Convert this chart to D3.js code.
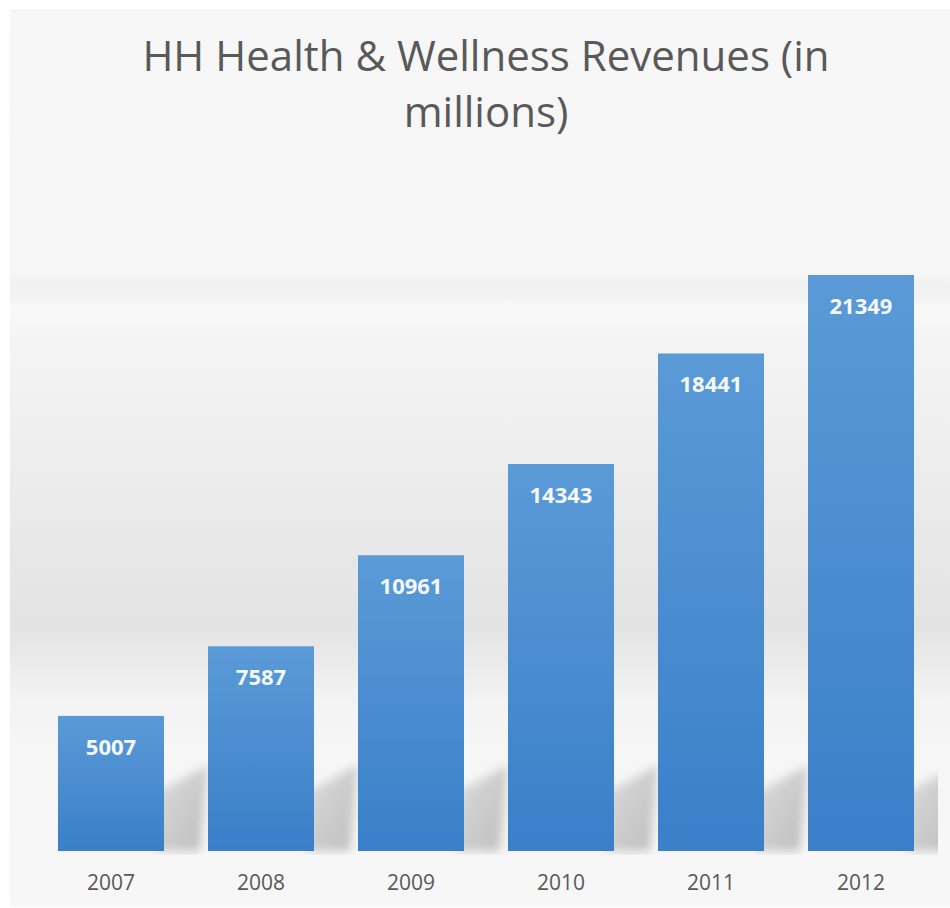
<!DOCTYPE html>
<html>
<head>
<meta charset="utf-8">
<script src="https://cdn.jsdelivr.net/npm/d3@7"></script>
<style>
  html, body { margin: 0; padding: 0; background: #ffffff; }
  svg { display: block; }
</style>
</head>
<body>
<svg id="chart" width="950" height="908"></svg>
<script>
// Revenue data
const years = ["2007", "2008", "2009", "2010", "2011", "2012"];
const revenues = [5007, 7587, 10961, 14343, 18441, 21349];
const titleLines = ["HH Health & Wellness Revenues (in", "millions)"];
const yMax = 25000;

const svg = d3.select("#chart");
const W = 950, H = 908;
const baseY = 851;

const defs = svg.append("defs");

// Chart-area background with a soft grey band
const bg = defs.append("linearGradient")
  .attr("id", "bgGrad")
  .attr("gradientUnits", "userSpaceOnUse")
  .attr("x1", 0).attr("y1", 9).attr("x2", 0).attr("y2", 907);
[
  [9, "#f7f7f7"], [274, "#f6f6f6"], [284, "#f1f1f1"], [298, "#f2f2f2"],
  [306, "#f9f9f9"], [330, "#f5f5f5"], [430, "#efefef"], [540, "#e8e8e8"],
  [625, "#e3e3e3"], [650, "#e8e8e8"], [700, "#f3f3f3"], [760, "#f6f6f6"],
  [907, "#f7f7f7"]
].forEach(([y, c]) => bg.append("stop")
  .attr("offset", ((y - 9) / (907 - 9))).attr("stop-color", c));

svg.append("rect")
  .attr("x", 10).attr("y", 9).attr("width", W - 10).attr("height", 907 - 9)
  .attr("fill", "url(#bgGrad)");

// Bar fill gradient
const barGrad = defs.append("linearGradient")
  .attr("id", "barGrad").attr("x1", 0).attr("y1", 0).attr("x2", 0).attr("y2", 1);
barGrad.append("stop").attr("offset", 0).attr("stop-color", "#5a9ad7");
barGrad.append("stop").attr("offset", 1).attr("stop-color", "#3a7fc8");

// Shadow styling
const blur = defs.append("filter").attr("id", "shadowBlur")
  .attr("x", -0.5).attr("y", -0.5).attr("width", 2).attr("height", 2);
blur.append("feGaussianBlur").attr("stdDeviation", 5);

const shGrad = defs.append("linearGradient")
  .attr("id", "shadowGrad").attr("x1", 0).attr("y1", 0).attr("x2", 1).attr("y2", 1);
shGrad.append("stop").attr("offset", 0).attr("stop-color", "#d8d8d8");
shGrad.append("stop").attr("offset", 1).attr("stop-color", "#b4b4b4");

defs.append("clipPath").attr("id", "plotClip")
  .append("rect").attr("x", 10).attr("y", 9).attr("width", 928).attr("height", baseY + 4 - 9);

// Scales
const x = d3.scaleBand()
  .domain(years)
  .range([36, 936])
  .paddingInner(0.2933)
  .paddingOuter(0.1467);

const y = d3.scaleLinear()
  .domain([0, yMax])
  .range([baseY, 176.5]);

const data = years.map((yr, i) => ({ year: yr, value: revenues[i] }));

// Perspective shadows behind bars
svg.append("g").attr("clip-path", "url(#plotClip)")
  .selectAll("path.shadow")
  .data(data)
  .join("path")
  .attr("class", "shadow")
  .attr("fill", "url(#shadowGrad)")
  .attr("opacity", 0.85)
  .attr("filter", "url(#shadowBlur)")
  .attr("d", d => {
    const x1 = x(d.year) + x.bandwidth();
    const b = y(0);
    return d3.line()([
      [x1 - 8, b], [x1 + 36, b], [x1 + 44, b - 86], [x1 - 8, b - 58]
    ]) + "Z";
  });

// Bars
svg.append("g")
  .selectAll("rect.bar")
  .data(data)
  .join("rect")
  .attr("class", "bar")
  .attr("x", d => x(d.year))
  .attr("y", d => y(d.value))
  .attr("width", x.bandwidth())
  .attr("height", d => y(0) - y(d.value))
  .attr("fill", "url(#barGrad)");

// Value labels
svg.append("g")
  .selectAll("text.value")
  .data(data)
  .join("text")
  .attr("class", "value")
  .attr("x", d => x(d.year) + x.bandwidth() / 2)
  .attr("y", d => y(d.value) + 39)
  .attr("text-anchor", "middle")
  .attr("font-family", "'Open Sans', sans-serif")
  .attr("font-weight", 700)
  .attr("font-size", 22)
  .attr("fill", "#f4f8fc")
  .text(d => d.value);

// Category axis (labels only)
const xAxis = svg.append("g")
  .attr("transform", `translate(0,${baseY})`)
  .call(d3.axisBottom(x).tickSize(0).tickPadding(26));
xAxis.select(".domain").remove();
xAxis.selectAll("text")
  .attr("font-family", "'Open Sans', sans-serif")
  .attr("font-size", 21)
  .attr("fill", "#595959")
  .attr("dy", "0")
  .attr("y", 39);

// Title
const cx = (x.range()[0] + x.range()[1]) / 2;
svg.append("g")
  .selectAll("text.title")
  .data(titleLines)
  .join("text")
  .attr("class", "title")
  .attr("x", cx)
  .attr("y", (d, i) => 71 + i * 56)
  .attr("text-anchor", "middle")
  .attr("font-family", "'Open Sans', sans-serif")
  .attr("font-size", 42)
  .attr("fill", "#595959")
  .text(d => d);
</script>
</body>
</html>
